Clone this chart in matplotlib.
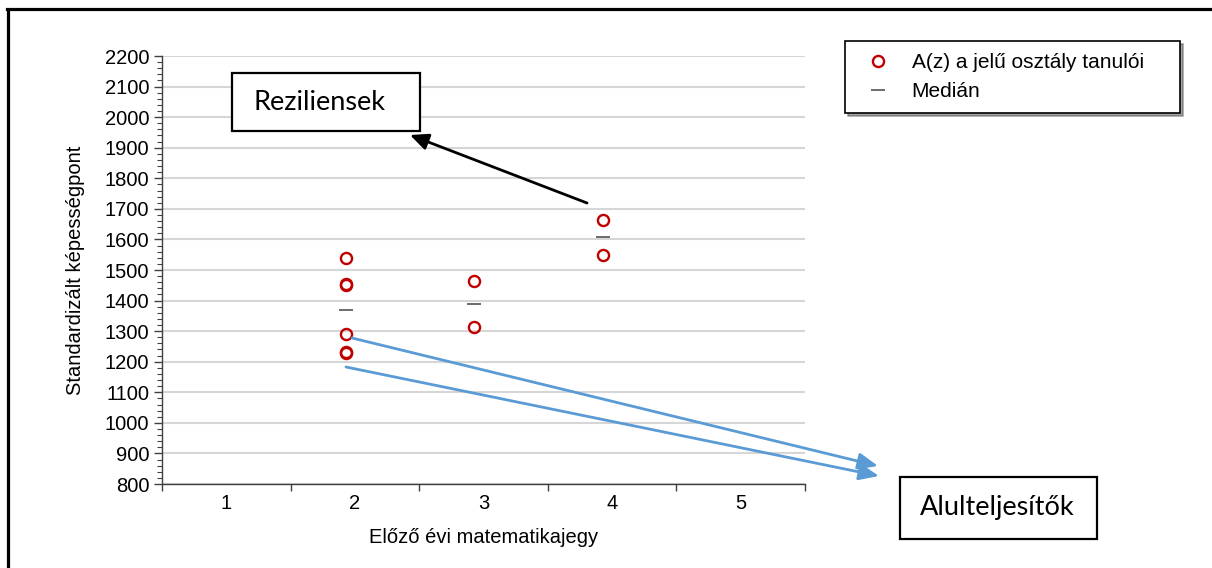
import matplotlib
matplotlib.use("Agg")
import matplotlib.pyplot as plt
from matplotlib.lines import Line2D
from matplotlib.patches import Rectangle, FancyArrowPatch
from matplotlib.ticker import MultipleLocator, FixedLocator

# data
grades = [2, 2, 2, 2, 2, 2, 3, 3, 4, 4]
scores = [1538, 1455, 1450, 1290, 1232, 1230, 1464, 1313, 1664, 1549]
median_grades = [2, 3, 4]
medians = [1370, 1389, 1607]
grade_ticks = [1, 2, 3, 4, 5]
score_ticks = list(range(800, 2201, 100))

W, H = 1212, 568
fig = plt.figure(figsize=(W / 100, H / 100), dpi=100)
plt.rcParams["font.family"] = ["Liberation Sans", "DejaVu Sans"]


def fx(px):
    return px / W


def fy(py):
    # image pixel row -> figure fraction
    return 1 - py / H


ax = fig.add_axes([fx(162), fy(484), fx(805) - fx(162), fy(56) - fy(484)])

shift = -0.07  # points sit a bit left of the category centre
ax.plot([g + shift for g in grades], scores, "o", ls="none", ms=8,
        mfc="none", mec="#c00000", mew=1.7, label="A(z) a jelű osztály tanulói", zorder=3)
ax.plot([g + shift for g in median_grades], medians, "_", ls="none", ms=9.5,
        mec="#606060", mew=1.3, label="Medián", zorder=3)

ax.set_xlim(0.5, 5.5)
ax.set_ylim(800, 2200)
ax.xaxis.set_major_locator(FixedLocator(grade_ticks))
ax.xaxis.set_minor_locator(MultipleLocator(1, offset=0.5))
ax.yaxis.set_major_locator(FixedLocator(score_ticks))
ax.yaxis.set_minor_locator(MultipleLocator(20))
ax.tick_params(axis="x", which="major", length=0, pad=7, labelsize=14.5)
ax.tick_params(axis="x", which="minor", length=5, width=1, color="#404040")
ax.tick_params(axis="y", which="major", length=6, width=1, color="#404040", pad=3, labelsize=14.5)
ax.tick_params(axis="y", which="minor", length=3.5, width=0.8, color="#404040")

ax.grid(axis="y", color="#d6d6d6", lw=1.5)
ax.set_axisbelow(True)
for s in ["top", "right"]:
    ax.spines[s].set_visible(False)
for s in ["left", "bottom"]:
    ax.spines[s].set_color("#404040")
    ax.spines[s].set_linewidth(1)

ax.set_xlabel("Előző évi matematikajegy", fontsize=14.5, labelpad=11)
ax.set_ylabel("Standardizált képességpont", fontsize=14.5, labelpad=14)

leg = fig.legend(loc="upper left",
                 bbox_to_anchor=(fx(845), fy(113), fx(1180) - fx(845), fy(41) - fy(113)),
                 mode="expand", fontsize=15, frameon=True, fancybox=False,
                 shadow=True, borderpad=0.6, labelspacing=0.45,
                 handlelength=2.0, handletextpad=0.6, borderaxespad=0)
leg.get_frame().set_edgecolor("black")
leg.get_frame().set_linewidth(1.2)

# outer frame
fig.add_artist(Line2D([fx(7), 1], [fy(8.5), fy(8.5)], color="black", lw=2.3))
fig.add_artist(Line2D([fx(8), fx(8)], [fy(9.5), 0], color="black", lw=2.3))


def box(x0, y0, x1, y1, text, tx):
    fig.add_artist(Rectangle((fx(x0), fy(y1)), fx(x1) - fx(x0), fy(y0) - fy(y1),
                             transform=fig.transFigure, fill=True, fc="white",
                             ec="black", lw=1.6, zorder=5))
    fig.text(fx(tx), fy((y0 + y1) / 2), text, ha="left", va="center",
             fontsize=19.5, family=["Lato", "DejaVu Sans"], zorder=6)


def arrow(x0, y0, x1, y1, color, hl, hw):
    fig.add_artist(FancyArrowPatch((fx(x0), fy(y0)), (fx(x1), fy(y1)),
                                   transform=fig.transFigure, color=color, lw=2.0,
                                   arrowstyle=f"-|>,head_length={hl},head_width={hw}",
                                   shrinkA=0, shrinkB=0, zorder=4))


box(232, 73, 420, 131, "Reziliensek", 253)
box(900, 477, 1097, 539, "Alulteljesítők", 920)

arrow(587, 203, 410, 135, "black", 11, 5)
arrow(352, 338, 878, 466, "#5b9bd5", 12, 5)
arrow(346, 367, 879, 476, "#5b9bd5", 12, 5)

fig.savefig("out.png", dpi=100, facecolor="white")
